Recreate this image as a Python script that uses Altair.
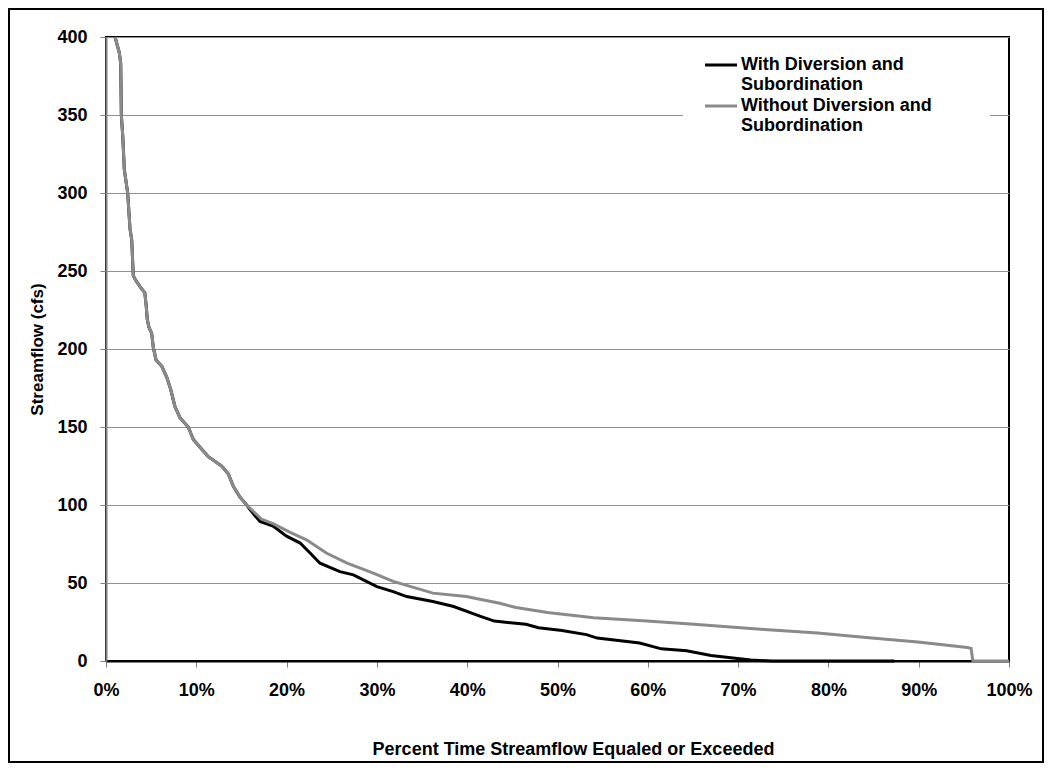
import altair as alt
import pandas as pd

SERIES = ["With Diversion and Subordination", "Without Diversion and Subordination"]
COLORS = ["#000000", "#8a8a8a"]

# shared upper part of both duration curves (percent exceeded, cfs)
shared_pct = [1.0, 1.47, 1.63, 1.7, 1.85, 2.03, 2.4, 2.66, 2.85, 3.02,
              3.3, 3.77, 4.3, 4.45, 4.57, 4.75, 5.06, 5.24, 5.54, 6.17,
              6.72, 7.17, 7.64, 8.19, 9.11, 9.67, 10.41, 11.33, 12.81, 13.54,
              14.1, 14.84, 15.58]
shared_cfs = [400, 390, 383, 350, 337, 315, 300, 277, 270, 247,
              244, 240, 236, 228, 219, 214, 210, 201, 193, 189,
              182, 174, 163, 156, 150, 142, 137, 131, 125, 120,
              112, 105, 100]

with_tail_pct = [15.95, 17.05, 18.5, 20.0, 21.5, 22.6, 23.7, 25.9, 27.4, 30.0,
                 31.8, 33.3, 36.2, 38.5, 41.4, 43.0, 46.5, 47.9, 50.5, 53.2,
                 54.4, 59.1, 61.5, 64.3, 67.0, 71.4, 73.7, 87.3]
with_tail_cfs = [97, 89.4, 86.5, 80, 75.6, 69.2, 62.7, 57.3, 55.2, 47.7,
                 44.5, 41.3, 38.1, 34.9, 28.8, 25.6, 23.5, 21.3, 19.6, 16.9,
                 14.7, 11.5, 7.8, 6.5, 3.5, 0.6, 0, 0]

without_tail_pct = [16.3, 17.2, 18.5, 20.4, 22.2, 24.4, 26.7, 29.6, 31.8, 36.2,
                    39.9, 43.6, 45.4, 48.9, 54.0, 59.9, 65.1, 72.9, 78.8, 84.8,
                    89.9, 95.4, 95.8, 96.0, 100.0]
without_tail_cfs = [96, 91, 88, 82.5, 77.7, 69.2, 62.7, 56.3, 51, 43.5,
                    41.3, 37, 34.3, 31.1, 27.8, 25.7, 23.5, 20.2, 18, 14.8,
                    12.2, 8.7, 8, 0, 0]

x_ticks = [0, 10, 20, 30, 40, 50, 60, 70, 80, 90, 100]
y_ticks = [0, 50, 100, 150, 200, 250, 300, 350, 400]

df_with = pd.DataFrame({"pct": shared_pct + with_tail_pct,
                        "cfs": shared_cfs + with_tail_cfs,
                        "series": SERIES[0]})
df_without = pd.DataFrame({"pct": shared_pct + without_tail_pct,
                           "cfs": shared_cfs + without_tail_cfs,
                           "series": SERIES[1]})

FONT = "Liberation Sans"

x_enc = alt.X("pct:Q",
              scale=alt.Scale(domain=[0, 100], nice=False),
              axis=alt.Axis(values=x_ticks, labelExpr="datum.value + '%'",
                            title="Percent Time Streamflow Equaled or Exceeded",
                            grid=False, labelFlush=False, labelOverlap=False,
                            domainColor="black", domainWidth=2,
                            tickColor="#808080", tickSize=6, labelPadding=14,
                            titleX=467, titleY=93, titleAlign="center",
                            titleBaseline="alphabetic", titleFontSize=18))
y_enc = alt.Y("cfs:Q",
              scale=alt.Scale(domain=[0, 400], nice=False),
              axis=alt.Axis(values=y_ticks, title="Streamflow (cfs)",
                            grid=True, gridColor="#909090", gridWidth=1,
                            domainColor="#808080", domainWidth=2,
                            tickColor="#808080", tickSize=6, labelPadding=13,
                            titleX=-64, titleY=312, titleAlign="center",
                            titleBaseline="alphabetic", titleFontSize=17))

color_enc = alt.Color("series:N",
                      scale=alt.Scale(domain=SERIES, range=COLORS),
                      legend=None)

line_with = alt.Chart(df_with).mark_line(strokeWidth=3).encode(
    x=x_enc, y=y_enc, color=color_enc)
line_without = alt.Chart(df_without).mark_line(strokeWidth=3).encode(
    x=x_enc, y=y_enc, color=color_enc)

one = alt.Data(values=[{"f": 1}])

# legend (drawn as a small white box with a line sample and two-line label per series)
legend_layers = [
    alt.Chart(one).mark_rect(fill="white").encode(
        x=alt.value(577), x2=alt.value(884), y=alt.value(8), y2=alt.value(108))
]
for i, (name, col) in enumerate(zip(SERIES, COLORS)):
    yv = 28 + 41 * i
    legend_layers.append(
        alt.Chart(one).mark_rule(color=col, strokeWidth=3).encode(
            x=alt.value(599), x2=alt.value(631), y=alt.value(yv)))
    legend_layers.append(
        alt.Chart(one).mark_text(
            text=[name.replace(" Subordination", ""), "Subordination"],
            align="left", baseline="middle", lineHeight=20,
            font=FONT, fontSize=18, fontWeight="bold", color="black").encode(
            x=alt.value(635), y=alt.value(yv)))

frame = alt.Chart(one).mark_rect(
    fill="white", fillOpacity=0, stroke="black", strokeWidth=2).encode(
    x=alt.value(-97), x2=alt.value(937), y=alt.value(-28), y2=alt.value(725))

chart = alt.layer(line_with, line_without, *legend_layers, frame).properties(
    width=903, height=624,
    autosize=alt.AutoSizeParams(type="none"),
    padding={"left": 98, "top": 29, "right": 35, "bottom": 102},
    background="white",
).configure_view(stroke="black", strokeWidth=2).configure_axis(
    labelFont=FONT, labelFontSize=18, labelFontWeight="bold", labelColor="black",
    titleFont=FONT, titleFontWeight="bold", titleColor="black",
)

chart.save("out.html", embed_options={"renderer": "svg", "actions": False})
